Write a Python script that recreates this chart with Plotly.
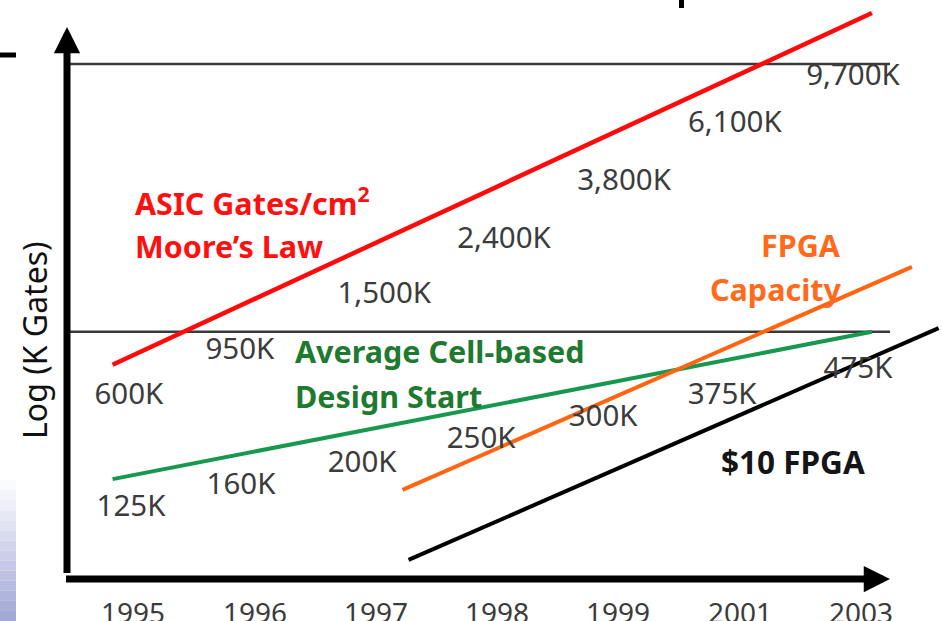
import plotly.graph_objects as go

# ---------------- data ----------------
years = ["1995", "1996", "1997", "1998", "1999", "2001", "2003"]
year_idx = [0, 1, 2, 3, 4, 5, 6]

asic_gates = ["600K", "950K", "1,500K", "2,400K", "3,800K", "6,100K", "9,700K"]
design_start = ["125K", "160K", "200K", "250K", "300K", "375K", "475K"]

# schematic trend lines: (year index, relative log level) at start and end
red_x = [-0.17, 6.09]
red_y = [41.6, 109.9]
green_x = [-0.17, 6.09]
green_y = [19.4, 48.0]
orange_x = [2.22, 6.42]
orange_y = [17.3, 60.6]
black_x = [2.27, 6.64]
black_y = [3.7, 48.7]

# label placement (layout only)
red_lab_x = [-0.035, 0.88, 2.07, 3.057, 4.047, 4.96, 5.934]
red_lab_y = [35.5, 44.1, 55.0, 65.8, 76.9, 88.3, 97.3]
green_lab_x = [-0.018, 0.889, 1.887, 2.868, 3.874, 4.855, 5.975]
green_lab_y = [13.6, 17.9, 22.3, 26.8, 31.1, 35.5, 40.4]

W, H = 942, 621
PX_PER_X = 121.3
X0_PX = 133.2
Y0_PX = 579.0
PX_PER_Y = 5.15

x_lo = -X0_PX / PX_PER_X
x_hi = (W - X0_PX) / PX_PER_X
y_lo = (Y0_PX - H) / PX_PER_Y
y_hi = Y0_PX / PX_PER_Y

def ux(px):
    return (px - X0_PX) / PX_PER_X

def uy(py):
    return (Y0_PX - py) / PX_PER_Y

FONT = "Noto Sans"
GRAY = "#3c3c3c"

fig = go.Figure()

# reference horizontal lines
for lvl in [100.0, 48.0]:
    fig.add_trace(go.Scatter(x=[ux(67), ux(890)], y=[lvl, lvl], mode="lines",
                             line=dict(color="#3a3a3a", width=2.5),
                             hoverinfo="skip", showlegend=False))

fig.add_trace(go.Scatter(x=green_x, y=green_y, mode="lines",
                         line=dict(color="#17984f", width=4), showlegend=False,
                         name="Average Cell-based Design Start"))
fig.add_trace(go.Scatter(x=red_x, y=red_y, mode="lines",
                         line=dict(color="#ff0a0a", width=4.5), showlegend=False,
                         name="ASIC Gates/cm2"))
fig.add_trace(go.Scatter(x=orange_x, y=orange_y, mode="lines",
                         line=dict(color="#ff6512", width=4), showlegend=False,
                         name="FPGA Capacity"))
fig.add_trace(go.Scatter(x=black_x, y=black_y, mode="lines",
                         line=dict(color="#000000", width=4), showlegend=False,
                         name="$10 FPGA"))

# value labels
fig.add_trace(go.Scatter(x=red_lab_x, y=red_lab_y, mode="text", text=asic_gates,
                         textfont=dict(family=FONT, size=29.5, color=GRAY),
                         hoverinfo="skip", showlegend=False))
fig.add_trace(go.Scatter(x=green_lab_x, y=green_lab_y, mode="text", text=design_start,
                         textfont=dict(family=FONT, size=29.5, color=GRAY),
                         hoverinfo="skip", showlegend=False))

annotations = []

# axis arrows
annotations.append(dict(x=ux(67), y=uy(27), ax=ux(67), ay=uy(583), xref="x", yref="y",
                        axref="x", ayref="y", showarrow=True, arrowhead=2,
                        arrowwidth=7, arrowsize=0.75, arrowcolor="#000", text=" "))
annotations.append(dict(x=ux(890), y=0, ax=ux(63), ay=0, xref="x", yref="y",
                        axref="x", ayref="y", showarrow=True, arrowhead=2,
                        arrowwidth=7, arrowsize=0.75, arrowcolor="#000", text=" "))

# year tick labels
for i, yr in zip(year_idx, years):
    annotations.append(dict(x=i, y=uy(612), xref="x", yref="y", text=yr, showarrow=False,
                            font=dict(family=FONT, size=28, color=GRAY)))

def txt(x, y, s, color, anchor="left", size=30.5, bold=True):
    annotations.append(dict(x=x, y=y, xref="x", yref="y", text=f"<b>{s}</b>" if bold else s,
                            showarrow=False, xanchor=anchor, yanchor="middle",
                            font=dict(family=FONT, size=size, color=color)))

txt(ux(133), uy(201), "ASIC Gates/cm<sup>2</sup>", "#ff1010")
txt(ux(133), uy(246), "Moore’s Law", "#ff1010")
txt(ux(843), uy(245), "FPGA", "#ff6a1c", anchor="right")
txt(ux(843), uy(289), "Capacity", "#ff6a1c", anchor="right")
txt(ux(293), uy(351), "Average Cell-based", "#1d7a2e")
txt(ux(293), uy(396), "Design Start", "#1d7a2e")
txt(ux(719), uy(461), "$10 FPGA", "#151515", size=31.5)

annotations.append(dict(x=ux(34), y=uy(340), xref="x", yref="y", text="Log (K Gates)",
                        showarrow=False, textangle=-90,
                        font=dict(family=FONT, size=32, color="#111")))

shapes = []
# slide artifacts
shapes.append(dict(type="line", xref="paper", yref="paper", x0=0, x1=16 / W,
                   y0=1 - 55 / H, y1=1 - 55 / H, line=dict(color="#000", width=5)))
shapes.append(dict(type="line", xref="paper", yref="paper", x0=681.5 / W, x1=681.5 / W,
                   y0=1, y1=1 - 8 / H, line=dict(color="#000", width=5)))
# gradient strip at lower left
n = 14
top, bot = 480.0, 621.0
for k in range(n):
    t = (k + 0.5) / n
    r = int(255 + (160 - 255) * t)
    g = int(255 + (166 - 255) * t)
    b = int(255 + (214 - 255) * t)
    y0p = top + (bot - top) * k / n
    y1p = top + (bot - top) * (k + 1) / n
    shapes.append(dict(type="rect", xref="paper", yref="paper", x0=0, x1=16 / W,
                       y0=1 - y1p / H, y1=1 - y0p / H, line=dict(width=0),
                       fillcolor=f"rgb({r},{g},{b})", layer="below"))

fig.update_layout(
    width=W, height=H, autosize=False,
    margin=dict(l=0, r=0, t=0, b=0, pad=0),
    paper_bgcolor="white", plot_bgcolor="white",
    xaxis=dict(range=[x_lo, x_hi], visible=False, fixedrange=True),
    yaxis=dict(range=[y_lo, y_hi], visible=False, fixedrange=True),
    annotations=annotations, shapes=shapes, showlegend=False,
)

fig.write_html("out.html", config={"displayModeBar": False},
               post_script="document.body.style.margin='0';document.body.style.overflow='hidden';")
